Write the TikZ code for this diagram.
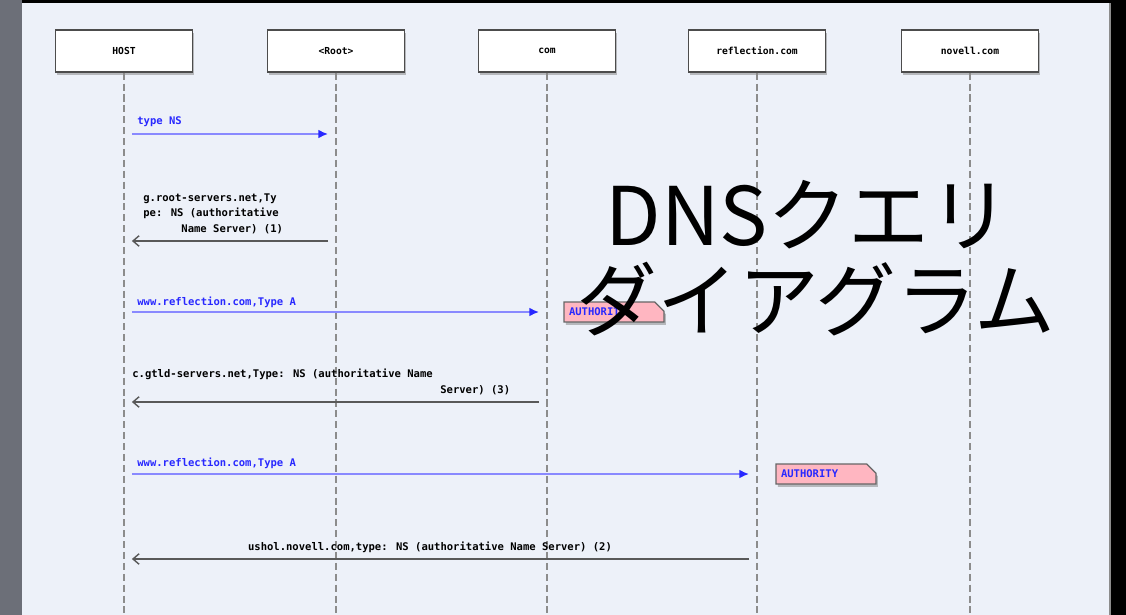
\documentclass[tikz,border=0pt]{standalone}
\usepackage{fontspec}
\usetikzlibrary{arrows.meta, shadows, shapes.misc}

\newfontfamily\lblfont{DejaVu Sans Mono}
\newfontfamily\jpfont{Noto Sans CJK JP}

\definecolor{panelbg}{RGB}{237,241,249}
\definecolor{marble}{RGB}{108,111,120}
\definecolor{qblue}{RGB}{40,40,255}
\definecolor{notepink}{RGB}{255,182,193}

\begin{document}
\begin{tikzpicture}[x=0.02cm, y=-0.02cm,
    actor/.style={draw=black!70, line width=0.8pt, fill=white,
      minimum width=2.74cm, minimum height=0.84cm, inner sep=0pt,
      font=\lblfont\bfseries\fontsize{5.5}{7}\selectfont,
      drop shadow={shadow xshift=1pt, shadow yshift=-1.6pt, opacity=0.5}},
    lifeline/.style={draw=black!45, line width=0.9pt, dash pattern=on 4pt off 2.2pt},
    query/.style={draw=qblue!55, line width=1.3pt,
      -{Latex[length=5.5pt, width=5pt, color=qblue]},
      shorten <=4.5pt, shorten >=4.5pt},
    reply/.style={draw=black!65, line width=0.8pt,
      -{Straight Barb[length=3.5pt, width=6pt]},
      shorten <=4.5pt, shorten >=4.5pt},
    msg/.style={inner sep=0pt, font=\lblfont\bfseries\fontsize{6}{8.8}\selectfont},
    note/.style={chamfered rectangle, chamfered rectangle corners=north east,
      chamfered rectangle xsep=3pt, chamfered rectangle ysep=3pt,
      draw=black!60, line width=0.7pt, fill=notepink, text=qblue,
      minimum width=2.0cm, minimum height=0.4cm, inner sep=0pt,
      text width=1.8cm, align=left, msg,
      drop shadow={shadow xshift=1pt, shadow yshift=-1.6pt, opacity=0.5}},
    title/.style={font=\jpfont\fontsize{46}{50}\selectfont, anchor=base}
  ]
    \useasboundingbox (0,0) rectangle (1126,615);

    % Background
    \fill[black] (0,0) rectangle (1126,615);
    \fill[marble] (0,0) rectangle (22,615);
    \fill[panelbg] (22,3) rectangle (1109,615);
    \fill[black!45] (1109,3) rectangle (1111,615);

    % Lifeline heads
    \node[actor] (hdr1) at (124,51) {HOST};
    \node[actor] (hdr2) at (336,51) {<Root>};
    \node[actor] (hdr3) at (547,51) {com};
    \node[actor] (hdr4) at (757,51) {reflection.com};
    \node[actor] (hdr5) at (970,51) {novell.com};

    % Lifelines
    \foreach \i in {1,...,5}
        \draw[lifeline] (hdr\i.south) -- (hdr\i.south |- 0,615);

    % Query to root
    \draw[query] (hdr1 |- 0,134) -- (hdr2 |- 0,134);
    \node[msg, text=qblue, anchor=base west] (q1) at (137,125) {type NS};

    \draw[reply] (hdr2 |- 0,241) -- (hdr1 |- 0,241);
    \node[msg, anchor=south west, align=left] (r1) at (143,234)
        {g.root-servers.net,Ty\\pe: NS (authoritative\\\phantom{xxxxxx}Name Server) (1)};

    % Query to com
    \draw[query] (hdr1 |- 0,312) -- (hdr3 |- 0,312);
    \node[msg, text=qblue, anchor=base west] (q2) at (137,305) {www.reflection.com,Type A};
    \node[note] (auth1) at (614,312) {AUTHORITY};

    \draw[reply] (hdr3 |- 0,402) -- (hdr1 |- 0,402);
    \node[msg, anchor=base west] (r2) at (132,377) {c.gtld-servers.net,Type: NS (authoritative Name};
    \node[msg, anchor=base west] (r2b) at (440,393) {Server) (3)};

    % Query to reflection.com
    \draw[query] (hdr1 |- 0,474) -- (hdr4 |- 0,474);
    \node[msg, text=qblue, anchor=base west] (q3) at (137,466) {www.reflection.com,Type A};
    \node[note] (auth2) at (826,474) {AUTHORITY};

    \draw[reply] (hdr4 |- 0,559) -- (hdr1 |- 0,559);
    \node[msg, anchor=base] (r3) at (430,550) {ushol.novell.com,type: NS (authoritative Name Server) (2)};

    % Title
    \node[title] (title1) at (808,245) {DNSクエリ};
    \node[title] (title2) at (816,330) {ダイアグラム};
\end{tikzpicture}
\end{document}
